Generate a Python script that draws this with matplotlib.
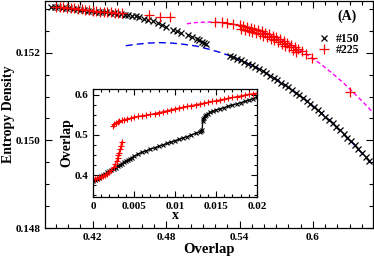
import matplotlib
matplotlib.use("Agg")
import matplotlib.pyplot as plt
from matplotlib.ticker import FixedLocator, MultipleLocator

plt.rcParams['font.family'] = ['Liberation Serif', 'DejaVu Serif']
plt.rcParams['font.weight'] = 'bold'
plt.rcParams['axes.labelweight'] = 'bold'

# ---- main panel data ----
b150_x = [0.386, 0.389, 0.392, 0.395, 0.398, 0.401, 0.404, 0.407, 0.410, 0.413,
          0.416, 0.419, 0.422, 0.425, 0.428, 0.431, 0.434, 0.437, 0.440, 0.443,
          0.446, 0.449, 0.452, 0.455, 0.458, 0.462, 0.465, 0.469, 0.473, 0.477,
          0.480, 0.486, 0.489, 0.492, 0.498, 0.501, 0.505, 0.507, 0.509, 0.511,
          0.513,
          0.532, 0.535, 0.538, 0.541, 0.544, 0.547, 0.550, 0.553, 0.556, 0.559,
          0.562, 0.565, 0.568, 0.571, 0.574, 0.577, 0.580, 0.583, 0.586, 0.589,
          0.592, 0.595, 0.598, 0.601, 0.604, 0.607, 0.610, 0.613, 0.616, 0.619,
          0.622, 0.625, 0.628, 0.631, 0.634, 0.637, 0.640, 0.643, 0.646]
b150_y = [0.15305, 0.15304, 0.15304, 0.15303, 0.15302, 0.15301, 0.15300, 0.15299, 0.15298, 0.15297,
          0.15296, 0.15295, 0.15294, 0.15293, 0.15292, 0.15292, 0.15291, 0.15290, 0.15289, 0.15288,
          0.15287, 0.15285, 0.15284, 0.15283, 0.15281, 0.15278, 0.15275, 0.15272, 0.15268, 0.15263,
          0.15259, 0.15252, 0.15249, 0.15246, 0.15240, 0.15236, 0.15231, 0.15228, 0.15225, 0.15223,
          0.15221,
          0.15193, 0.15190, 0.15186, 0.15183, 0.15179, 0.15175, 0.15171, 0.15167, 0.15162, 0.15158,
          0.15153, 0.15148, 0.15143, 0.15138, 0.15132, 0.15127, 0.15121, 0.15115, 0.15109, 0.15103,
          0.15096, 0.15090, 0.15083, 0.15076, 0.15069, 0.15062, 0.15054, 0.15047, 0.15039, 0.15031,
          0.15023, 0.15015, 0.15006, 0.14998, 0.14989, 0.14980, 0.14971, 0.14962, 0.14952]

r225_x = [0.390, 0.393, 0.396, 0.399, 0.402, 0.405, 0.408, 0.411, 0.414, 0.417,
          0.420, 0.423, 0.426, 0.429, 0.432, 0.435, 0.438, 0.441, 0.444,
          0.4664, 0.4746, 0.4828,
          0.5196, 0.5253, 0.5294, 0.5343, 0.540, 0.543, 0.546, 0.549, 0.552, 0.555,
          0.558, 0.561, 0.564, 0.567, 0.570, 0.573, 0.576, 0.579, 0.582, 0.585,
          0.588, 0.591, 0.594, 0.599,
          0.5415, 0.5445, 0.5475, 0.5505, 0.5535, 0.5565, 0.5595, 0.5625, 0.5655,
          0.5685, 0.5715, 0.5745, 0.5775, 0.5805, 0.5835, 0.5865,
          0.630]
r225_y = [0.15305, 0.15305, 0.15304, 0.15303, 0.15302, 0.15301, 0.15300, 0.15299, 0.15298, 0.15297,
          0.15296, 0.15295, 0.15294, 0.15293, 0.15293, 0.15292, 0.15291, 0.15291, 0.15290,
          0.15287, 0.15282, 0.15282,
          0.15270, 0.15269, 0.15268, 0.15266, 0.15263, 0.15261, 0.15259, 0.15257, 0.15254, 0.15252,
          0.15249, 0.15246, 0.15242, 0.15239, 0.15235, 0.15231, 0.15227, 0.15223, 0.15218, 0.15214,
          0.15208, 0.15204, 0.15198, 0.15189,
          0.15255, 0.15252, 0.15250, 0.15248, 0.15245, 0.15242, 0.15239, 0.15236, 0.15232,
          0.15228, 0.15225, 0.15221, 0.15216, 0.15212, 0.15207, 0.15202,
          0.15111]

blue_x = [0.447, 0.455, 0.465, 0.475, 0.485, 0.495, 0.505, 0.515, 0.525, 0.535, 0.545,
          0.555, 0.565, 0.575, 0.585, 0.595, 0.605, 0.615, 0.625, 0.635, 0.645, 0.650]
blue_y = [0.15216, 0.15219, 0.15222, 0.15223, 0.15222, 0.15219, 0.15215, 0.15208, 0.15200, 0.15190, 0.15178,
          0.15164, 0.15148, 0.15131, 0.15111, 0.15090, 0.15067, 0.15042, 0.15015, 0.14986, 0.14956, 0.14940]

mag_x = [0.497, 0.505, 0.515, 0.525, 0.535, 0.545, 0.555, 0.565, 0.575, 0.585,
         0.595, 0.605, 0.615, 0.625, 0.635, 0.645, 0.650]
mag_y = [0.15266, 0.15269, 0.15270, 0.15269, 0.15265, 0.15260, 0.15252, 0.15241, 0.15229, 0.15214,
         0.15196, 0.15177, 0.15155, 0.15131, 0.15104, 0.15076, 0.15060]

# ---- inset data ----
in150_x = [0, .00025, .0005, .00075, .001, .00125, .0015, .00175, .002, .00225,
           .0025, .00275, .003, .00325, .0035, .00375, .004, .00425, .0045, .00475,
           .005, .0055, .006, .0065, .007, .0075, .008, .0085, .009, .0095,
           .010, .0105, .011, .0115, .012, .0125, .013, .0132, .0133,
           .0134, .01345, .0135, .0136, .0138, .0140, .0143, .0146, .0150, .0155,
           .0160, .0165, .0170, .0175, .0180, .0185, .0190, .0195, .0200]
in150_y = [.385, .388, .391, .394, .397, .401, .404, .407, .410, .413,
           .416, .419, .422, .425, .429, .432, .435, .438, .441, .444,
           .447, .453, .457, .461, .465, .468, .472, .475, .479, .482,
           .486, .489, .493, .496, .500, .504, .508, .511, .513,
           .535, .540, .543, .546, .550, .553, .556, .559, .562, .565,
           .568, .571, .574, .577, .580, .583, .586, .590, .594]

in225a_x = [0, .00025, .0005, .00075, .001, .00125, .0015, .00175, .002, .00225,
            .0025, .0027, .0029, .0030, .0031, .0032, .0033, .0034, .0035]
in225a_y = [.390, .391, .392, .394, .396, .398, .401, .404, .408, .413,
            .420, .427, .436, .442, .449, .456, .464, .473, .483]

in225b_x = [.0024, .0026, .0028, .0030, .0032, .0035, .0038, .0042, .0046, .0050,
            .0055, .0060, .0065, .0070, .0075, .0080, .0085, .0090, .0095,
            .0100, .0105, .0110, .0115, .0120, .0125, .0130, .0135, .0140, .0145,
            .0150, .0155, .0160, .0165, .0170, .0175, .0180, .0185, .0190, .0195, .0200]
in225b_y = [.523, .527, .530, .532, .534, .536, .538, .540, .542, .544,
            .546, .548, .549, .551, .553, .5555, .5575, .560, .5625,
            .565, .567, .569, .571, .573, .575, .577, .579, .581, .583,
            .585, .587, .589, .591, .593, .595, .597, .599, .601, .602, .604]

main_xticks = [0.42, 0.48, 0.54, 0.6]
main_xlabels = ['0.42', '0.48', '0.54', '0.6']
main_yticks = [0.148, 0.150, 0.152]
main_ylabels = ['0.148', '0.150', '0.152']
in_xticks = [0, 0.005, 0.01, 0.015, 0.02]
in_xlabels = ['0', '0.005', '0.01', '0.015', '0.02']
in_yticks = [0.4, 0.5, 0.6]
in_ylabels = ['0.4', '0.5', '0.6']

fig = plt.figure(figsize=(3.74, 2.57), dpi=100)
ax = fig.add_axes([0.1203, 0.1128, 0.8767, 0.8833])

ax.plot(blue_x, blue_y, color='#0000ee', lw=1.0, dashes=(5, 3))
ax.plot(mag_x, mag_y, color='#ff00ff', lw=1.0, dashes=(3, 2))
ax.plot(b150_x, b150_y, ls='none', marker='x', ms=3.8, mew=0.9, color='black', label='#150')
ax.plot(r225_x, r225_y, ls='none', marker='+', ms=6.5, mew=0.9, color='#ff0000', label='#225')

ax.set_xlim(0.381, 0.649)
ax.set_ylim(0.148, 0.15318)
ax.xaxis.set_major_locator(FixedLocator(main_xticks))
ax.set_xticklabels(main_xlabels)
ax.xaxis.set_minor_locator(MultipleLocator(0.01))
ax.yaxis.set_major_locator(FixedLocator(main_yticks))
ax.set_yticklabels(main_ylabels)
ax.yaxis.set_minor_locator(MultipleLocator(0.0005))
ax.tick_params(which='both', direction='in', top=True, right=True, labelsize=8, width=0.8)
ax.tick_params(which='major', length=5)
ax.tick_params(which='minor', length=3)
ax.set_xlabel('Overlap', fontsize=10.5, labelpad=1)
ax.set_ylabel('Entropy Density', fontsize=10, labelpad=0)
for s in ax.spines.values():
    s.set_linewidth(0.9)

ax.text(0.92, 0.935, '(A)', transform=ax.transAxes, fontsize=10, ha='center', va='center')
ax.legend(loc='upper right', bbox_to_anchor=(0.985, 0.895), frameon=False, fontsize=8.5,
          handlelength=0.9, handletextpad=0.6, labelspacing=-0.1, borderaxespad=0.3)

ins = fig.add_axes([0.2487, 0.2335, 0.4385, 0.4202])
ins.plot(in150_x, in150_y, color='black', lw=0.9, marker='x', ms=2.8, mew=0.8)
ins.plot(in225a_x, in225a_y, color='#ff0000', lw=0.8, marker='+', ms=4.5, mew=0.8)
ins.plot(in225b_x, in225b_y, color='#ff0000', lw=0.8, marker='+', ms=4.5, mew=0.8)
ins.set_xlim(0, 0.02)
ins.set_ylim(0.346, 0.614)
ins.xaxis.set_major_locator(FixedLocator(in_xticks))
ins.set_xticklabels(in_xlabels)
ins.xaxis.set_minor_locator(MultipleLocator(0.001))
ins.yaxis.set_major_locator(FixedLocator(in_yticks))
ins.set_yticklabels(in_ylabels)
ins.yaxis.set_minor_locator(MultipleLocator(0.025))
ins.tick_params(which='both', direction='in', top=True, right=True, labelsize=8, width=0.8)
ins.tick_params(which='major', length=4)
ins.tick_params(which='minor', length=2.5)
ins.set_xlabel('x', fontsize=10, labelpad=-1)
ins.set_ylabel('Overlap', fontsize=10, labelpad=1)
for s in ins.spines.values():
    s.set_linewidth(0.9)

fig.savefig('out.png', dpi=100)
